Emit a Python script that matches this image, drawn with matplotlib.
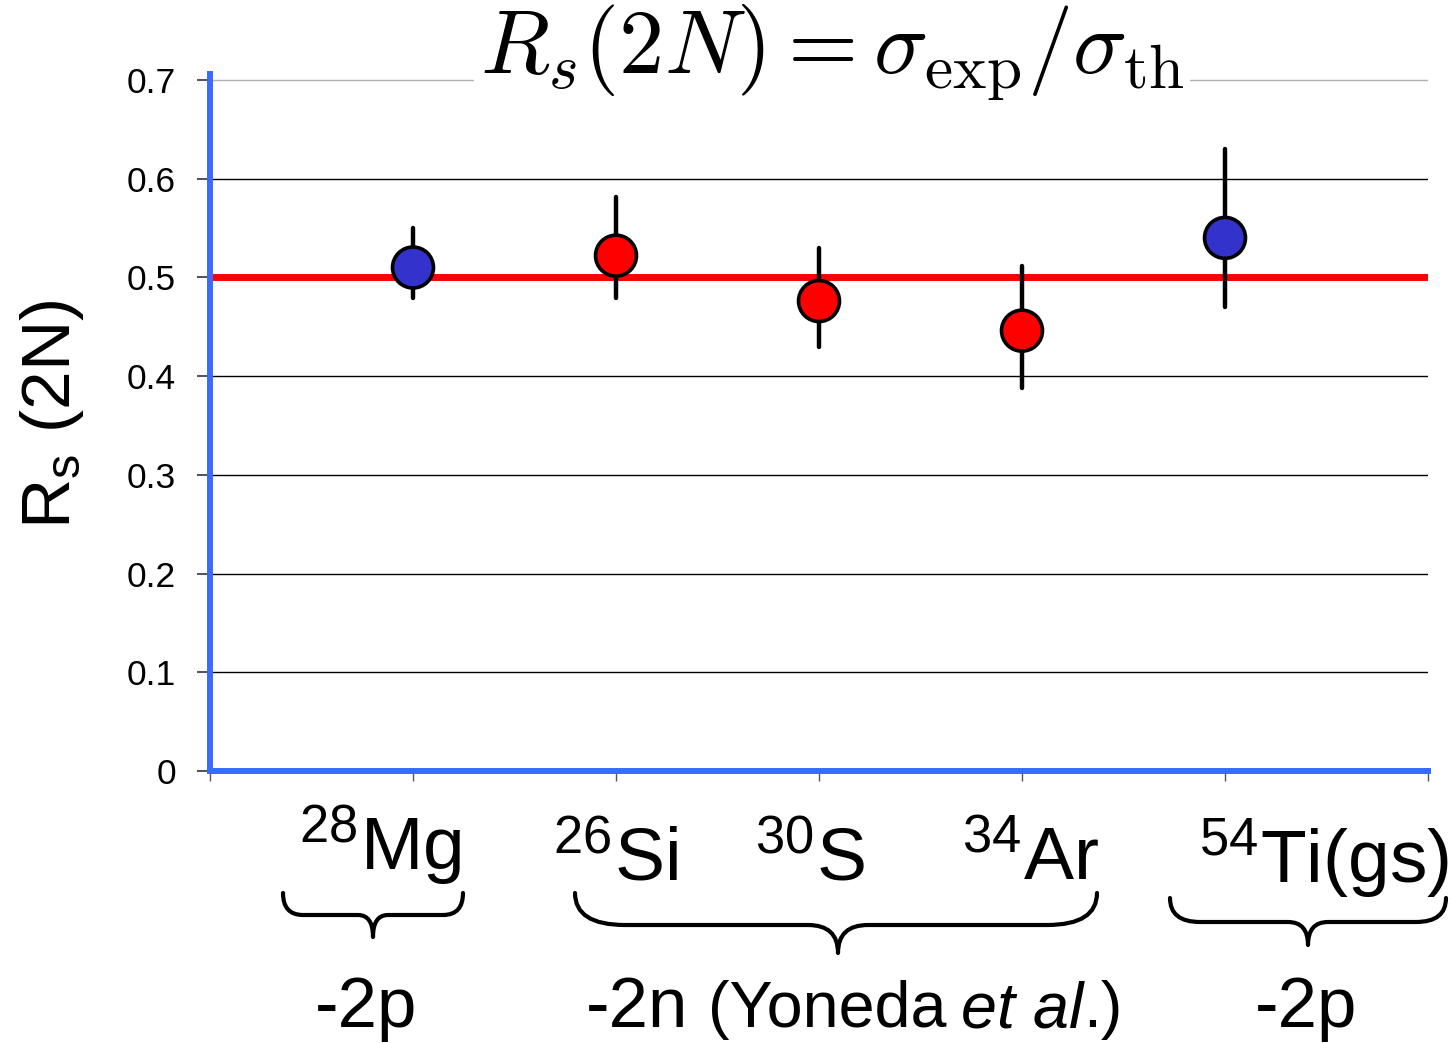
import matplotlib
matplotlib.use("Agg")
import matplotlib.pyplot as plt
from matplotlib.path import Path
from matplotlib.patches import PathPatch

plt.rcParams["font.family"] = ["Liberation Sans", "DejaVu Sans"]
plt.rcParams["mathtext.fontset"] = "custom"
plt.rcParams["mathtext.rm"] = "Liberation Sans"
plt.rcParams["mathtext.it"] = "Liberation Sans:italic"
plt.rcParams["mathtext.bf"] = "Liberation Sans:bold"

# ---------------------------------------------------------------------------
# Data
# ---------------------------------------------------------------------------
nuclei   = ["$^{28}$Mg", "$^{26}$Si", "$^{30}$S", "$^{34}$Ar", "$^{54}$Ti(gs)"]
x_pos    = [1, 2, 3, 4, 5]
rs_val   = [0.510, 0.522, 0.476, 0.446, 0.540]
rs_lo    = [0.479, 0.479, 0.429, 0.388, 0.470]
rs_hi    = [0.550, 0.581, 0.530, 0.512, 0.630]
channel  = ["-2p", "-2n", "-2n", "-2n", "-2p"]
ref_line = 0.5

y_ticks  = [0.0, 0.1, 0.2, 0.3, 0.4, 0.5, 0.6, 0.7]
y_labels = ["0", "0.1", "0.2", "0.3", "0.4", "0.5", "0.6", "0.7"]

# ---------------------------------------------------------------------------
# Layout (pixels of a 1452 x 1043 canvas, y measured from the top)
# ---------------------------------------------------------------------------
W, H = 1452, 1043
BLUE_AXIS = "#3A6BFF"
chan_color = {"-2p": "#3333CC", "-2n": "#FF0000"}


def fx(x):
    return x / W


def fy(y):
    return 1.0 - y / H


fig = plt.figure(figsize=(W / 100, H / 100), dpi=100)
ax = fig.add_axes([fx(210), fy(771), (1428 - 210) / W, (771 - 74) / H])

# gridlines, reference line, error bars, markers
ax.set_axisbelow(True)
ax.yaxis.grid(True, color="black", lw=1.0)
ax.axhline(ref_line, color="#FF0000", lw=5, zorder=2)

err_lo = [v - lo for v, lo in zip(rs_val, rs_lo)]
err_hi = [hi - v for v, hi in zip(rs_val, rs_hi)]
eb = ax.errorbar(x_pos, rs_val, yerr=[err_lo, err_hi], fmt="none",
                 ecolor="black", elinewidth=3.2, capsize=0, zorder=3)
for lc in eb[2]:
    lc.set_capstyle("round")

ax.scatter(x_pos, rs_val, s=29.5 ** 2, c=[chan_color[c] for c in channel],
           edgecolors="black", linewidths=2.6, zorder=4, clip_on=False)

ax.set_xlim(0, 6)
ax.set_ylim(0, 0.706)
ax.set_xticks(range(7))
ax.set_yticks(y_ticks)
ax.set_yticklabels(y_labels)
ax.yaxis.get_gridlines()[-1].set_color("#b0b0b0")

for side in ("top", "right"):
    ax.spines[side].set_visible(False)
for side in ("left", "bottom"):
    ax.spines[side].set_color(BLUE_AXIS)
    ax.spines[side].set_linewidth(4.3)

ax.tick_params(axis="y", length=9.5, width=1.2, color="#333333",
               pad=15, labelsize=25.5)
ax.tick_params(axis="x", length=7, width=1, color="#555555",
               labelbottom=False)

# title and y label
fig.text(fx(832), fy(73), r"$R_s(2N) = \sigma_{\rm exp}/\sigma_{\rm th}$",
         ha="center", va="baseline", fontsize=65, math_fontfamily="cm",
         bbox=dict(facecolor="white", edgecolor="none", pad=4))
fig.text(fx(52), fy(414), r"R$_\mathrm{s}$ (2N)", rotation=90,
         ha="center", va="center", fontsize=50)

# nucleus names under the axis
name_px = [(380, 870), (615, 880), (810, 880), (1030, 880), (1324, 882)]
for name, (px, py) in zip(nuclei, name_px):
    fig.text(fx(px), fy(py), name, ha="center", va="baseline", fontsize=54)


# curly braces grouping the nuclei
def brace(x0, x1, xc, ytop, ymid, ytip, r_end, r_tip):
    pts = [(x0, ytop), (x0, ymid), (x0 + r_end, ymid),
           (xc - r_tip, ymid), (xc, ymid), (xc, ytip),
           (xc, ymid), (xc + r_tip, ymid),
           (x1 - r_end, ymid), (x1, ymid), (x1, ytop)]
    codes = [Path.MOVETO, Path.CURVE3, Path.CURVE3,
             Path.LINETO, Path.CURVE3, Path.CURVE3,
             Path.CURVE3, Path.CURVE3,
             Path.LINETO, Path.CURVE3, Path.CURVE3]
    verts = [(fx(a), fy(b)) for a, b in pts]
    fig.patches.append(PathPatch(Path(verts, codes), transform=fig.transFigure,
                                 fill=False, lw=3, edgecolor="black",
                                 capstyle="round", joinstyle="round"))


brace(283, 463, 373, 893, 915, 937, 20, 15)
brace(575, 1097, 838, 893, 925, 953, 50, 30)
brace(1170, 1446, 1308, 898, 922, 945, 30, 20)

# group labels
fig.text(fx(366), fy(1027), "-2p", ha="center", va="baseline", fontsize=51)
fig.text(fx(1306), fy(1027), "-2p", ha="center", va="baseline", fontsize=51)

pieces = [("-2n", 51, "normal", 20),
          ("(Yoneda", 46.5, "normal", 14),
          ("et al", 46.5, "italic", 0),
          (".)", 46.5, "normal", 0)]
renderer = fig.canvas.get_renderer()
widths = []
for txt, size, style, gap in pieces:
    t = fig.text(0, 0, txt, fontsize=size, style=style)
    widths.append(t.get_window_extent(renderer).width)
    t.remove()
total = sum(widths) + sum(p[3] for p in pieces)
x_cur = 854 - total / 2
for (txt, size, style, gap), w in zip(pieces, widths):
    fig.text(fx(x_cur), fy(1027), txt, fontsize=size, style=style,
             ha="left", va="baseline")
    x_cur += w + gap

fig.savefig("out.png", dpi=100)
